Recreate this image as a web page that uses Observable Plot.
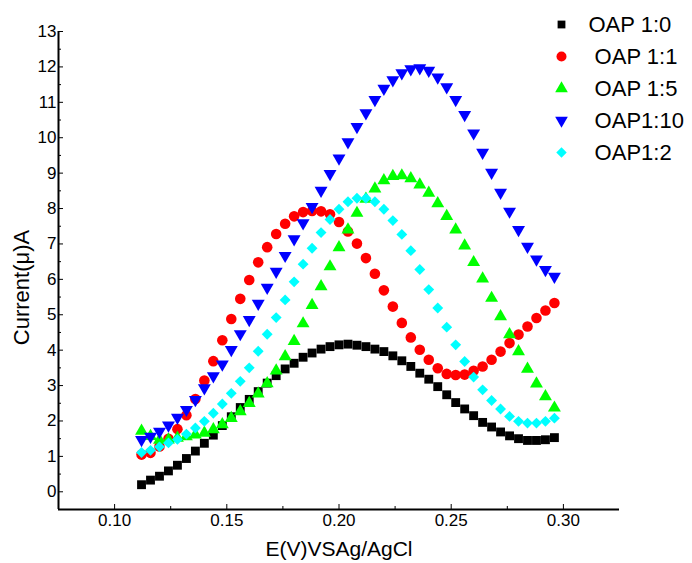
<!DOCTYPE html>
<html><head><meta charset="utf-8">
<script src="https://cdn.jsdelivr.net/npm/d3@7"></script>
<script src="https://cdn.jsdelivr.net/npm/@observablehq/plot@0.6"></script>
<style>
body{margin:0;background:#fff;}
#chart svg{display:block;}
</style></head><body><div id="chart"></div>
<script>
// Potential E (V vs Ag/AgCl)
const potential = [0.112,0.116,0.120,0.124,0.128,0.132,0.136,0.140,0.144,0.148,0.152,0.156,0.160,0.164,0.168,0.172,0.176,0.180,0.184,0.188,0.192,0.196,0.200,0.204,0.208,0.212,0.216,0.220,0.224,0.228,0.232,0.236,0.240,0.244,0.248,0.252,0.256,0.260,0.264,0.268,0.272,0.276,0.280,0.284,0.288,0.292,0.296];
// Current (µA) per series
const oap1_0 = [0.20,0.33,0.44,0.59,0.75,0.94,1.15,1.37,1.60,1.87,2.12,2.38,2.61,2.83,3.07,3.28,3.47,3.63,3.80,3.92,4.03,4.10,4.15,4.17,4.14,4.10,4.03,3.96,3.84,3.70,3.54,3.35,3.18,2.97,2.74,2.52,2.34,2.15,1.96,1.83,1.69,1.58,1.50,1.45,1.45,1.47,1.53];
const oap1_1 = [1.05,1.10,1.28,1.50,1.77,2.16,2.62,3.14,3.69,4.28,4.88,5.45,5.98,6.48,6.91,7.28,7.57,7.78,7.90,7.93,7.92,7.84,7.62,7.35,7.01,6.60,6.16,5.69,5.23,4.77,4.36,4.01,3.73,3.49,3.33,3.30,3.31,3.42,3.54,3.73,3.96,4.20,4.44,4.67,4.91,5.12,5.33];
const oap1_5 = [1.72,1.57,1.46,1.47,1.52,1.56,1.61,1.66,1.76,1.90,2.08,2.27,2.50,2.77,3.06,3.42,3.82,4.25,4.75,5.27,5.80,6.36,6.90,7.40,7.87,8.27,8.56,8.79,8.91,8.93,8.85,8.67,8.44,8.14,7.78,7.40,6.95,6.48,6.02,5.47,4.95,4.44,3.96,3.47,3.05,2.69,2.37];
const oap1_10 = [1.47,1.56,1.70,1.88,2.10,2.32,2.60,2.93,3.27,3.60,4.01,4.46,4.86,5.32,5.77,6.22,6.67,7.14,7.59,8.05,8.51,8.98,9.42,9.88,10.31,10.70,11.07,11.39,11.63,11.83,11.94,11.97,11.90,11.71,11.43,11.07,10.65,10.13,9.58,9.02,8.45,7.92,7.40,6.93,6.57,6.27,6.08];
const oap1_2 = [1.11,1.17,1.27,1.38,1.48,1.63,1.80,1.99,2.22,2.48,2.78,3.12,3.50,3.97,4.45,4.92,5.42,5.93,6.43,6.88,7.32,7.69,7.98,8.19,8.29,8.29,8.19,7.98,7.66,7.27,6.81,6.28,5.71,5.19,4.65,4.15,3.68,3.24,2.88,2.58,2.34,2.13,1.99,1.94,1.94,1.99,2.08];
const seriesNames = ["OAP 1:0", "\u00a0OAP 1:1", "\u00a0OAP 1:5", "\u00a0OAP1:10", "\u00a0OAP1:2"];
const xTicks = [0.10, 0.15, 0.20, 0.25, 0.30];
const xMinorTicks = [0.125, 0.175, 0.225, 0.275];
const yTicks = [0,1,2,3,4,5,6,7,8,9,10,11,12,13];
const yMinorTicks = [0.5,1.5,2.5,3.5,4.5,5.5,6.5,7.5,8.5,9.5,10.5,11.5,12.5];
const xDomain = [0.075, 0.325];
const yDomain = [-0.5, 13];
const xTitle = "E(V)VSAg/AgCl";
const yTitle = "Current(\u03bc)A";

const seriesValues = [oap1_0, oap1_1, oap1_5, oap1_10, oap1_2];
const styles = [
  {fill: "#000000", symbol: "square", r: 5.0, lr: 4.4, rotate: 0},
  {fill: "#ff0000", symbol: "circle", r: 5.3, lr: 5.0, rotate: 0},
  {fill: "#00ff00", symbol: "triangle", r: 4.8, lr: 4.7, rotate: 0},
  {fill: "#0000ff", symbol: "triangle", r: 4.8, lr: 4.7, rotate: 180},
  {fill: "#00ffff", symbol: "diamond2", r: 4.9, lr: 4.7, rotate: 0}
];

const W = 692, H = 563, mL = 58, mR = 73, mT = 31, mB = 54;
const frameW = W - mL - mR, frameH = H - mT - mB;
const font = "'Liberation Sans', Arial, sans-serif";

const marks = [];
// axis lines
marks.push(Plot.ruleX([xDomain[0]], {x: d => d, stroke: "black", strokeWidth: 2}));
marks.push(Plot.ruleY([yDomain[0]], {y: d => d, stroke: "black", strokeWidth: 2}));
// inward ticks
marks.push(Plot.tickX(xTicks, {x: d => d, insetTop: frameH - 5, stroke: "black", strokeWidth: 1}));
marks.push(Plot.tickX(xMinorTicks, {x: d => d, insetTop: frameH - 3, stroke: "black", strokeWidth: 1}));
marks.push(Plot.tickY(yTicks, {y: d => d, insetRight: frameW - 5, stroke: "black", strokeWidth: 1}));
marks.push(Plot.tickY(yMinorTicks, {y: d => d, insetRight: frameW - 3, stroke: "black", strokeWidth: 1}));
// tick labels
marks.push(Plot.axisX({ticks: xTicks, tickFormat: d3.format(".2f"), tickSize: 0, tickPadding: 4, fontSize: 17, label: null}));
marks.push(Plot.axisY({ticks: yTicks, tickFormat: d3.format("d"), tickSize: 0, tickPadding: 2, fontSize: 17, label: null}));
// data
seriesValues.forEach((vals, i) => {
  const s = styles[i];
  const rows = potential.map((e, k) => ({e, v: vals[k]}));
  marks.push(Plot.dot(rows, {x: "e", y: "v", symbol: s.symbol, fill: s.fill, stroke: "none", r: s.r, rotate: s.rotate}));
});
// legend
seriesNames.forEach((name, i) => {
  const s = styles[i];
  marks.push(Plot.dot([name], {frameAnchor: "top-left", dx: 503, dy: -7 + 32 * i, symbol: s.symbol, fill: s.fill, stroke: "none", r: s.lr, rotate: s.rotate}));
  marks.push(Plot.text([name], {frameAnchor: "top-left", dx: 530, dy: -7 + 32 * i, text: d => d, textAnchor: "start", lineAnchor: "middle", fontSize: 22, fill: "black"}));
});
// titles
marks.push(Plot.text([xTitle], {frameAnchor: "bottom", dy: 40, text: d => d, textAnchor: "middle", lineAnchor: "middle", fontSize: 21, fill: "black"}));
marks.push(Plot.text([yTitle], {frameAnchor: "left", dx: -37, dy: 17, rotate: -90, text: d => d, textAnchor: "middle", lineAnchor: "middle", fontSize: 22, fill: "black"}));

const chart = Plot.plot({
  width: W, height: H,
  marginLeft: mL, marginRight: mR, marginTop: mT, marginBottom: mB,
  x: {domain: xDomain},
  y: {domain: yDomain},
  style: {fontFamily: font, background: "white", color: "black", overflow: "visible"},
  marks
});
document.getElementById("chart").appendChild(chart);
</script></body></html>
